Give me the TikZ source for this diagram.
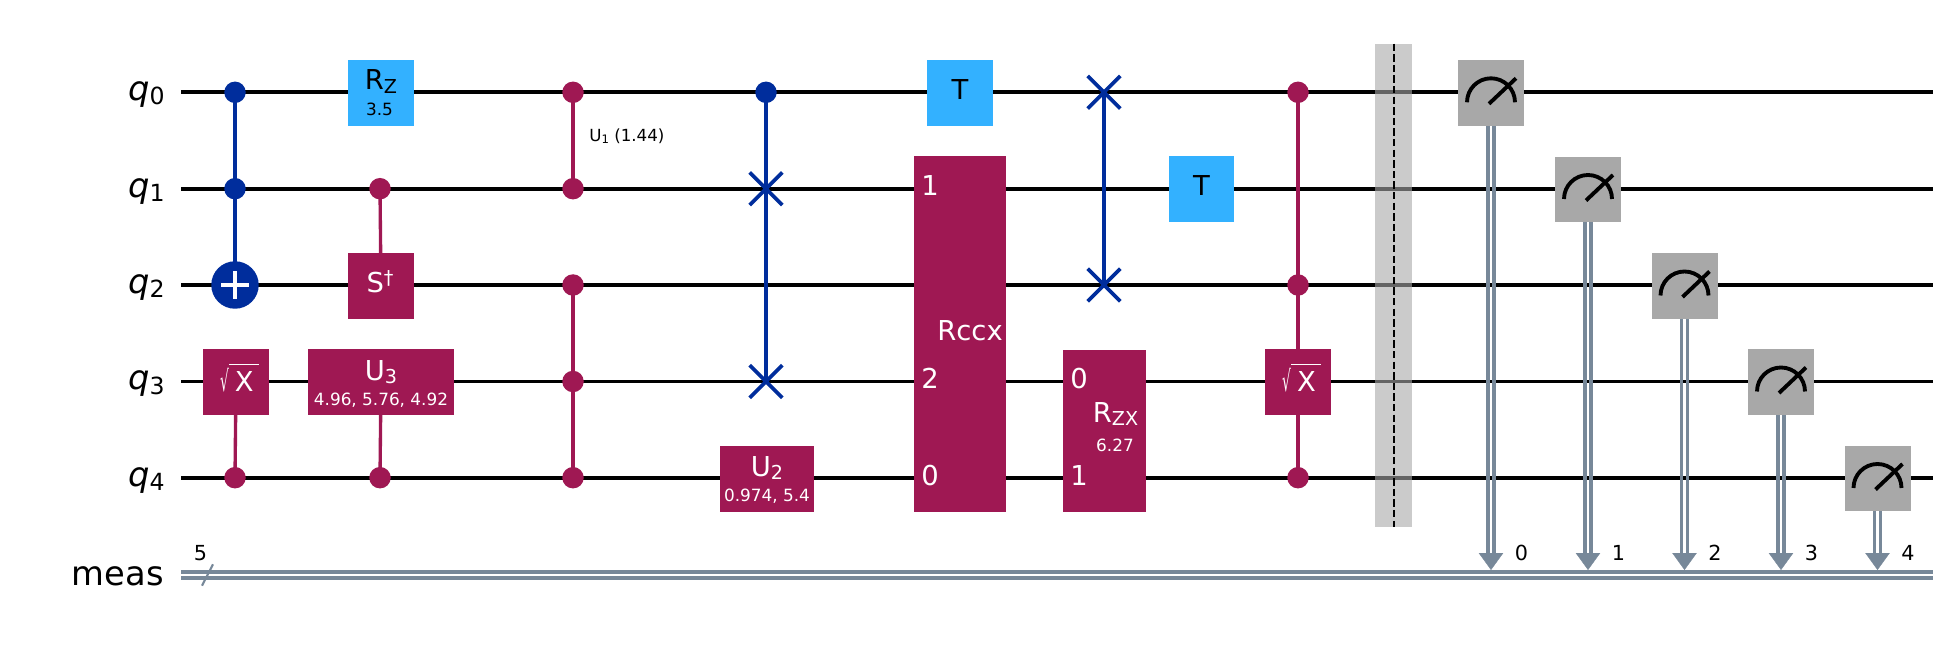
\documentclass[tikz,border=0pt]{standalone}
\usepackage{fontspec}
\setmainfont{DejaVu Sans}
\usetikzlibrary{arrows.meta,shapes.misc}
\definecolor{gatemag}{HTML}{9F1853}
\definecolor{gateblu}{HTML}{33B1FF}
\definecolor{ctrlblu}{HTML}{002D9C}
\definecolor{measgry}{HTML}{A8A8A8}
\definecolor{clbit}{HTML}{778899}
\newcommand{\gsub}[1]{\raisebox{-0.12em}{\scalebox{0.7}{#1}}}
\newcommand{\gsup}[1]{\raisebox{0.32em}{\scalebox{0.7}{#1}}}
\newcommand{\rootX}{\scalebox{0.5}[1.05]{√}\rlap{\raisebox{0.97em}{\rule{1.1em}{0.04em}}}\kern0.22em X}
\tikzset{
  qwire/.style={line width=2.2pt},
  cwire/.style={clbit,line width=2pt},
  gatebox/.style={fill=gatemag,minimum width=1.32cm,minimum height=1.32cm,inner sep=0pt},
  bluebox/.style={gatebox,fill=gateblu},
  measbox/.style={gatebox,fill=measgry},
  dotm/.style={circle,fill=gatemag,minimum size=0.43cm,inner sep=0pt},
  dotb/.style={dotm,fill=ctrlblu},
  linkm/.style={gatemag,line width=1.9pt},
  linkb/.style={ctrlblu,line width=1.9pt},
  swapx/.style={cross out,draw=ctrlblu,line width=2.1pt,minimum size=0.58cm,inner sep=0pt},
  gname/.style={font=\fontsize{15.6}{18}\selectfont,inner sep=0pt,text=white,anchor=base},
  gparm/.style={font=\fontsize{9.6}{11}\selectfont,inner sep=0pt,text=white,anchor=base},
  qname/.style={font=\fontsize{19.2}{24}\selectfont,inner sep=0pt,anchor=base east},
  cnum/.style={font=\fontsize{11.8}{14}\selectfont,inner sep=0pt,anchor=base}
}

\begin{document}
\begin{tikzpicture}[x=0.02cm,y=-0.02cm]
  \useasboundingbox (0,0) rectangle (1955,648);
  % quantum wires and their labels
  \foreach \i/\y in {0/92.3,1/188.7,2/285,3/381.5,4/477.7}{
    \coordinate (ws\i) at (181,\y);
    \coordinate (we\i) at (1933,\y);
    \draw[qwire] (ws\i) -- (we\i);
    \node[qname] (lq\i) at (165,\y+8.5) {\textit{q}\gsub{\i}};
  }
  % classical register
  \coordinate (cs0) at (181,571.8);
  \coordinate (ce0) at (1933,571.8);
  \coordinate (cs1) at (181,577.8);
  \coordinate (ce1) at (1933,577.8);
  \draw[cwire] (cs0) -- (ce0);
  \draw[cwire] (cs1) -- (ce1);
  \node[qname] (lmeas) at (164,585) {meas};
  \coordinate (sl0) at (213,564.3);
  \coordinate (sl1) at (202,585.7);
  \draw[clbit,line width=1.2pt] (sl0) -- (sl1);
  \node[cnum] (lsize) at (200.5,560.7) {5};

  % ccx on q0 q1 q2
  \node[dotb] (cx0) at (235,92.3) {};
  \node[dotb] (cx1) at (235,188.7) {};
  \node[circle,fill=ctrlblu,minimum size=0.95cm,inner sep=0pt] (cxt) at (235,285) {};
  \draw[linkb] (cx0.center) -- (cxt.center);
  \draw[white,line width=2.1pt] ([xshift=-0.28cm]cxt.center) -- ([xshift=0.28cm]cxt.center);
  \draw[white,line width=2.1pt] ([yshift=-0.28cm]cxt.center) -- ([yshift=0.28cm]cxt.center);

  % controlled sqrt x
  \node[dotm] (csx) at (235,477.7) {};
  \node[gatebox] (sx) at (236,382) {};
  \draw[linkm] (sx.center) -- (csx.center);
  \node[gname] (tsx) at (237,391.7) {\rootX};

  % rz and controlled sdg, cu3
  \node[bluebox] (rz) at (381,92.8) {};
  \node[gname,text=black] (trz) at (381,90) {R\gsub{Z}};
  \node[gparm,text=black] (prz) at (379.5,116) {3.5};
  \node[dotm] (csd) at (380,188.7) {};
  \node[gatebox] (sd) at (381,285.8) {};
  \draw[linkm] (csd.center) -- (sd.center);
  \node[gname] (tsd) at (380,293) {S\gsup{†}};
  \node[dotm] (cu3) at (380,477.7) {};
  \node[gatebox,minimum width=2.92cm] (u3) at (381,382) {};
  \draw[linkm] (u3.center) -- (cu3.center);
  \node[gname] (tu3) at (381,380.7) {U\gsub{3}};
  \node[gparm] (pu3) at (381,406) {4.96, 5.76, 4.92};

  % cu1 and ccz
  \node[dotm] (cu0) at (573,92.3) {};
  \node[dotm] (cu1) at (573,188.7) {};
  \draw[linkm] (cu0.center) -- (cu1.center);
  \node[font=\fontsize{9.5}{11}\selectfont,inner sep=0pt,anchor=base west] (tu1) at (589,141.5) {U\gsub{1} (1.44)};
  \node[dotm] (cz2) at (573,285) {};
  \node[dotm] (cz3) at (573,381.5) {};
  \node[dotm] (cz4) at (573,477.7) {};
  \draw[linkm] (cz2.center) -- (cz4.center);

  % cswap
  \node[dotb] (fr0) at (766,92.3) {};
  \node[swapx] (fr1) at (766,188.7) {};
  \node[swapx] (fr3) at (766,381.5) {};
  \draw[linkb] (fr0.center) -- (fr3.center);
  \node[gatebox,minimum width=1.88cm] (u2) at (767,479) {};
  \node[gname] (tu2) at (767,476.7) {U\gsub{2}};
  \node[gparm] (pu2) at (767,501.7) {0.974, 5.4};

  % t and rccx
  \node[bluebox] (t0) at (960,92.8) {};
  \node[gname,text=black] (tt0) at (960,99.3) {T};
  \node[gatebox,minimum width=1.84cm,minimum height=7.11cm] (rccx) at (960,333.8) {};
  \node[gname] (trc) at (970,340.7) {Rccx};
  \node[gname] (pa) at (930,195.7) {1};
  \node[gname] (pb) at (930,389) {2};
  \node[gname] (pc) at (930,485.7) {0};

  % swap, rzx, t
  \node[swapx] (sw0) at (1104,92.3) {};
  \node[swapx] (sw2) at (1104,285) {};
  \draw[linkb] (sw0.center) -- (sw2.center);
  \node[gatebox,minimum width=1.66cm,minimum height=3.24cm] (rzx) at (1104.5,431) {};
  \node[gname] (trzx) at (1115.5,422.3) {R\gsub{ZX}};
  \node[gparm] (przx) at (1115,452) {6.27};
  \node[gname] (pd) at (1079,389) {0};
  \node[gname] (pe) at (1079,485.7) {1};
  \node[bluebox,minimum width=1.30cm] (t1) at (1201.5,189) {};
  \node[gname,text=black] (tt1) at (1201.5,195.7) {T};

  % c3 sqrt x
  \node[dotm] (c30) at (1298,92.3) {};
  \node[dotm] (c31) at (1298,285) {};
  \node[dotm] (c34) at (1298,477.7) {};
  \node[gatebox] (c3x) at (1298,382) {};
  \draw[linkm] (c30.center) -- (c34.center);
  \node[gname] (tc3) at (1299,391.7) {\rootX};

  % barrier
  \node[minimum width=0.75cm,minimum height=9.66cm,inner sep=0pt,fill=measgry,fill opacity=0.6] (bar) at (1393.7,285.5) {};
  \draw[line width=1.2pt,dash pattern=on 0.148cm off 0.064cm] (bar.north) -- (bar.south);

  % measurements
  \foreach \i/\x/\y in {0/1491/92.8,1/1588/189.5,2/1684.5/286,3/1781/382,4/1877.5/478.5}{
    \coordinate (ah\i) at (\x,570);
    \coordinate (ab\i) at (\x,553);
    \draw[cwire] ([xshift=-0.06cm]\x,\y) -- ([xshift=-0.06cm]ab\i);
    \draw[cwire] ([xshift=0.06cm]\x,\y) -- ([xshift=0.06cm]ab\i);
    \draw[clbit,line width=0.2pt,-{Triangle[length=0.34cm,width=0.49cm]}] (ab\i) -- (ah\i);
    \node[measbox] (m\i) at (\x,\y) {};
    \draw[line width=2.2pt] ([shift={(-0.48cm,-0.19cm)}]m\i.center) arc (180:0:0.48cm);
    \draw[line width=2.2pt] ([shift={(-0.04cm,-0.22cm)}]m\i.center) -- ([shift={(0.5cm,0.29cm)}]m\i.center);
    \node[cnum] (nm\i) at (\x+30.5,560.8) {\i};
  }
\end{tikzpicture}
\end{document}
